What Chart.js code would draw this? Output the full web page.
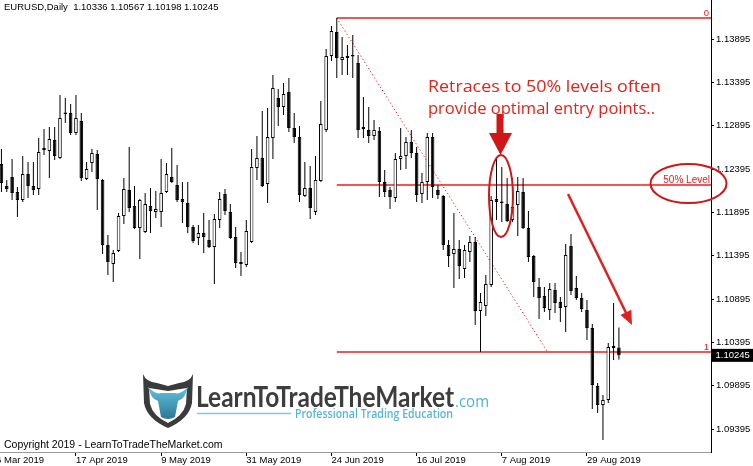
<!DOCTYPE html>
<html>
<head>
<meta charset="utf-8">
<script src="https://cdn.jsdelivr.net/npm/chart.js@4.4.1/dist/chart.umd.min.js"></script>
<style>
  html, body { margin: 0; padding: 0; background: #fff; }
  canvas { display: block; }
</style>
</head>
<body>
<canvas id="chart" width="753" height="466"></canvas>
<script>
// EURUSD daily candles, 28 Mar 2019 .. 6 Sep 2019
const opens = [
  1.12453, 1.12199, 1.12303, 1.12130, 1.12037, 1.12337, 1.12199, 1.12164, 1.12637, 1.12603,
  1.12730, 1.12522, 1.13041, 1.13041, 1.12810, 1.12949, 1.12280, 1.12464, 1.12568, 1.12268,
  1.11518, 1.11299, 1.11449, 1.11853, 1.12153, 1.11968, 1.11714, 1.11668, 1.11968, 1.11899,
  1.11899, 1.12130, 1.12303, 1.12211, 1.12049, 1.12003, 1.11726, 1.11599, 1.11657, 1.11576,
  1.11496, 1.11807, 1.12107, 1.11899, 1.11610, 1.11322, 1.11287, 1.11553, 1.12407, 1.12522,
  1.12222, 1.12753, 1.13214, 1.13110, 1.13283, 1.12868, 1.12764, 1.12084, 1.12176, 1.11899,
  1.12257, 1.12845, 1.13699, 1.13976, 1.13653, 1.13676, 1.13699, 1.13618, 1.12880, 1.12845,
  1.12776, 1.12834, 1.12245, 1.12153, 1.12061, 1.12510, 1.12545, 1.12707, 1.12580, 1.12107,
  1.12245, 1.12764, 1.12153, 1.12084, 1.11518, 1.11414, 1.11472, 1.11241, 1.11437, 1.11553,
  1.10757, 1.10814, 1.11057, 1.12049, 1.12014, 1.11991, 1.11807, 1.11980, 1.12130, 1.11714,
  1.11391, 1.11034, 1.10930, 1.10768, 1.10999, 1.10861, 1.10803, 1.11507, 1.11022, 1.10907,
  1.10768, 1.10561, 1.09891, 1.09672, 1.09730, 1.10353, 1.10336
];
const highs = [
  1.12626, 1.12268, 1.12510, 1.12187, 1.12545, 1.12476, 1.12476, 1.12753, 1.12857, 1.12880,
  1.12880, 1.13249, 1.13214, 1.13145, 1.13249, 1.13041, 1.12476, 1.12626, 1.12614, 1.12280,
  1.11634, 1.11460, 1.11887, 1.12291, 1.12649, 1.12199, 1.12049, 1.12118, 1.12176, 1.12141,
  1.12510, 1.12464, 1.12637, 1.12441, 1.12245, 1.12245, 1.11749, 1.11749, 1.11887, 1.11807,
  1.11876, 1.12130, 1.12164, 1.11991, 1.11726, 1.11437, 1.11807, 1.12626, 1.12776, 1.13064,
  1.13099, 1.13480, 1.13318, 1.13387, 1.13445, 1.13041, 1.12891, 1.12476, 1.12430, 1.12545,
  1.13180, 1.13780, 1.14045, 1.14137, 1.13918, 1.13826, 1.13941, 1.13710, 1.13226, 1.13110,
  1.12960, 1.12880, 1.12384, 1.12187, 1.12580, 1.12868, 1.12764, 1.12845, 1.12649, 1.12349,
  1.12810, 1.12810, 1.12211, 1.12095, 1.11576, 1.11887, 1.11576, 1.11518, 1.11622, 1.11610,
  1.10964, 1.11172, 1.12084, 1.12534, 1.12418, 1.12291, 1.12291, 1.12303, 1.12291, 1.11910,
  1.11403, 1.11138, 1.11034, 1.11080, 1.11080, 1.10918, 1.11530, 1.11645, 1.11161, 1.10964,
  1.10884, 1.10607, 1.09926, 1.09788, 1.10388, 1.10849, 1.10567
];
const lows = [
  1.12130, 1.12130, 1.12037, 1.11841, 1.12014, 1.12061, 1.12095, 1.12095, 1.12557, 1.12291,
  1.12499, 1.12510, 1.12926, 1.12787, 1.12787, 1.12257, 1.12268, 1.12360, 1.11922, 1.11414,
  1.11172, 1.11091, 1.11437, 1.11760, 1.11899, 1.11703, 1.11357, 1.11657, 1.11657, 1.11830,
  1.11726, 1.12118, 1.12234, 1.12014, 1.11772, 1.11657, 1.11541, 1.11518, 1.11426, 1.11484,
  1.11068, 1.11714, 1.11864, 1.11587, 1.11253, 1.11161, 1.11264, 1.11541, 1.12268, 1.12187,
  1.12003, 1.12510, 1.12891, 1.13018, 1.12822, 1.12695, 1.12014, 1.12072, 1.11818, 1.11864,
  1.12245, 1.12822, 1.13641, 1.13445, 1.13480, 1.13480, 1.13445, 1.12753, 1.12753, 1.12695,
  1.12730, 1.12072, 1.12072, 1.11934, 1.12014, 1.12384, 1.12395, 1.12522, 1.12014, 1.12003,
  1.12037, 1.12061, 1.12049, 1.11460, 1.11264, 1.11022, 1.11126, 1.11138, 1.11322, 1.10595,
  1.10284, 1.10699, 1.11034, 1.11807, 1.11784, 1.11784, 1.11784, 1.11622, 1.11703, 1.11322,
  1.10918, 1.10664, 1.10745, 1.10653, 1.10734, 1.10630, 1.10515, 1.10941, 1.10884, 1.10745,
  1.10422, 1.09626, 1.09580, 1.09268, 1.09695, 1.10191, 1.10198
];
const closes = [
  1.12234, 1.12164, 1.12118, 1.12037, 1.12337, 1.12199, 1.12153, 1.12591, 1.12614, 1.12741,
  1.12545, 1.12984, 1.13030, 1.12810, 1.12984, 1.12291, 1.12395, 1.12580, 1.12280, 1.11518,
  1.11322, 1.11426, 1.11853, 1.12164, 1.11945, 1.11714, 1.12037, 1.11991, 1.11910, 1.11934,
  1.12118, 1.12337, 1.12245, 1.12037, 1.12014, 1.11726, 1.11564, 1.11657, 1.11610, 1.11496,
  1.11818, 1.12049, 1.11910, 1.11599, 1.11311, 1.11299, 1.11680, 1.12418, 1.12522, 1.12199,
  1.12764, 1.13330, 1.13110, 1.13261, 1.12868, 1.12764, 1.12095, 1.12176, 1.11945, 1.12268,
  1.12914, 1.13699, 1.13987, 1.13676, 1.13687, 1.13699, 1.13694, 1.12845, 1.12857, 1.12776,
  1.12845, 1.12245, 1.12130, 1.12072, 1.12510, 1.12545, 1.12707, 1.12580, 1.12095, 1.12245,
  1.12764, 1.12187, 1.12095, 1.11518, 1.11391, 1.11472, 1.11276, 1.11460, 1.11553, 1.10757,
  1.10861, 1.11068, 1.12037, 1.12014, 1.12003, 1.11795, 1.11957, 1.12141, 1.11714, 1.11380,
  1.11091, 1.10907, 1.10791, 1.11011, 1.10849, 1.10791, 1.11403, 1.10988, 1.10907, 1.10780,
  1.10561, 1.09903, 1.09672, 1.09730, 1.10341, 1.10330, 1.10245
];

const yTicks = [1.09395, 1.09895, 1.10395, 1.10895, 1.11395, 1.11895, 1.12395, 1.12895, 1.13395, 1.13895];
const xTickBars = [-2, 14, 30, 46, 62, 78, 94, 110];
const xTickLabels = ['26 Mar 2019', '17 Apr 2019', '9 May 2019', '31 May 2019', '24 Jun 2019', '16 Jul 2019', '7 Aug 2019', '29 Aug 2019'];

// visible window of the MT4 chart
const priceMin = 1.09130, priceMax = 1.14345;
const barMin = -0.27, barMax = 133.3;

// fibonacci tool: from the 25 Jun high down to the 1 Aug low
const fibStartBar = 63, fibEndBar = 102.6;
const fibHigh = highs[63], fibLow = lows[90];

const RED = '#ee1c1c';
const TEXT_RED = '#e2231a';
const DARK_RED = '#cf1717';
const tickFont = { family: "'Liberation Sans', Arial, sans-serif", size: 9.5 };

function fitText(ctx, text, x, base, width, font, color) {
  ctx.font = font;
  const w = ctx.measureText(text).width;
  ctx.save();
  ctx.translate(x, base);
  ctx.scale(width / w, 1);
  ctx.fillStyle = color;
  ctx.textBaseline = 'alphabetic';
  ctx.fillText(text, 0, 0);
  ctx.restore();
}

function drawLogo(ctx) {
  // shield with bull head
  const cx = 168, top = 373;
  ctx.save();
  ctx.fillStyle = '#3b3b3b';
  ctx.beginPath();
  ctx.moveTo(cx - 25, top + 1);
  ctx.quadraticCurveTo(cx - 22, top + 9, cx - 11, top + 10);
  ctx.lineTo(cx, top + 13);
  ctx.lineTo(cx + 11, top + 10);
  ctx.quadraticCurveTo(cx + 22, top + 9, cx + 25, top + 1);
  ctx.lineTo(cx + 24, top + 30);
  ctx.quadraticCurveTo(cx + 21, top + 46, cx, top + 55);
  ctx.quadraticCurveTo(cx - 21, top + 46, cx - 24, top + 30);
  ctx.closePath();
  ctx.fill();
  ctx.fillStyle = '#ffffff';
  ctx.beginPath();
  ctx.moveTo(cx - 19, top + 15);
  ctx.lineTo(cx, top + 18);
  ctx.lineTo(cx + 19, top + 15);
  ctx.lineTo(cx + 18, top + 31);
  ctx.quadraticCurveTo(cx + 15, top + 43, cx, top + 50);
  ctx.quadraticCurveTo(cx - 15, top + 43, cx - 18, top + 31);
  ctx.closePath();
  ctx.fill();
  const g = ctx.createLinearGradient(0, top + 14, 0, top + 48);
  g.addColorStop(0, '#5fc3e0');
  g.addColorStop(1, '#2a7390');
  ctx.fillStyle = g;
  ctx.beginPath();
  ctx.moveTo(cx - 20, top + 14);
  ctx.quadraticCurveTo(cx - 12, top + 22, cx - 7, top + 20);
  ctx.lineTo(cx + 7, top + 20);
  ctx.quadraticCurveTo(cx + 12, top + 22, cx + 20, top + 14);
  ctx.quadraticCurveTo(cx + 17, top + 26, cx + 10, top + 28);
  ctx.lineTo(cx + 7, top + 44);
  ctx.quadraticCurveTo(cx, top + 48, cx - 7, top + 44);
  ctx.lineTo(cx - 10, top + 28);
  ctx.quadraticCurveTo(cx - 17, top + 26, cx - 20, top + 14);
  ctx.closePath();
  ctx.fill();
  ctx.restore();

  fitText(ctx, 'LearnToTradeTheMarket', 196, 407, 258, "bold 28px Lato, 'Open Sans', sans-serif", '#3d3d3d');
  fitText(ctx, '.com', 455, 407, 34, "17px 'Open Sans', Lato, sans-serif", '#4db3da');
  ctx.save();
  ctx.strokeStyle = '#7cc8e6';
  ctx.lineWidth = 1.5;
  ctx.beginPath();
  ctx.moveTo(197, 413.5);
  ctx.lineTo(291, 413.5);
  ctx.stroke();
  ctx.restore();
  fitText(ctx, 'Professional Trading Education', 295, 418, 158, "600 12.5px 'Open Sans', sans-serif", '#56b5db');
}

const overlay = {
  id: 'overlay',
  beforeDatasetsDraw(chart) {
    const { ctx, chartArea: a, scales: { x, y } } = chart;
    const x0 = x.getPixelForValue(fibStartBar);
    const levels = [fibHigh, (fibHigh + fibLow) / 2, fibLow];
    ctx.save();
    ctx.strokeStyle = RED;
    ctx.lineWidth = 1.5;
    levels.forEach(p => {
      const py = y.getPixelForValue(p);
      ctx.beginPath();
      ctx.moveTo(x0, py);
      ctx.lineTo(a.right, py);
      ctx.stroke();
    });
    ctx.lineWidth = 1;
    ctx.setLineDash([1.3, 2.4]);
    ctx.beginPath();
    ctx.moveTo(x0, y.getPixelForValue(fibHigh));
    ctx.lineTo(x.getPixelForValue(fibEndBar), y.getPixelForValue(fibLow));
    ctx.stroke();
    ctx.restore();
  },
  afterDraw(chart) {
    const { ctx, chartArea: a, scales: { x, y } } = chart;
    ctx.save();
    // fib level labels
    ctx.fillStyle = RED;
    ctx.font = "9.5px 'Liberation Sans', Arial, sans-serif";
    ctx.textAlign = 'right';
    ctx.textBaseline = 'alphabetic';
    ctx.fillText('0', a.right - 2, y.getPixelForValue(fibHigh) - 2);
    ctx.fillText('1', a.right - 2, y.getPixelForValue(fibLow) - 2);
    ctx.font = "10px 'Liberation Sans', Arial, sans-serif";
    ctx.fillText('50% Level', a.right - 1, y.getPixelForValue((fibHigh + fibLow) / 2) - 2);

    // ellipses
    ctx.strokeStyle = DARK_RED;
    ctx.lineWidth = 2;
    ctx.beginPath();
    ctx.ellipse(501, 196, 12, 41, 0, 0, Math.PI * 2);
    ctx.stroke();
    ctx.beginPath();
    ctx.ellipse(688.5, 183.5, 38, 19.5, 0, 0, Math.PI * 2);
    ctx.stroke();

    // thick down arrow
    ctx.fillStyle = DARK_RED;
    ctx.fillRect(496.5, 114, 7, 21);
    ctx.beginPath();
    ctx.moveTo(489, 133);
    ctx.lineTo(512, 133);
    ctx.lineTo(500.5, 155);
    ctx.closePath();
    ctx.fill();

    // diagonal arrow
    ctx.strokeStyle = '#e02020';
    ctx.fillStyle = '#e02020';
    ctx.lineWidth = 2.5;
    const sx = 568, sy = 194, ex = 632, ey = 325;
    const ang = Math.atan2(ey - sy, ex - sx);
    ctx.beginPath();
    ctx.moveTo(sx, sy);
    ctx.lineTo(ex - 12 * Math.cos(ang), ey - 12 * Math.sin(ang));
    ctx.stroke();
    ctx.beginPath();
    ctx.moveTo(ex, ey);
    ctx.lineTo(ex - 14 * Math.cos(ang) + 6 * Math.sin(ang), ey - 14 * Math.sin(ang) - 6 * Math.cos(ang));
    ctx.lineTo(ex - 14 * Math.cos(ang) - 6 * Math.sin(ang), ey - 14 * Math.sin(ang) + 6 * Math.cos(ang));
    ctx.closePath();
    ctx.fill();

    // annotation text
    ctx.textAlign = 'left';
    fitText(ctx, 'Retraces to 50% levels often', 428, 92, 233, "16.5px 'Open Sans', sans-serif", TEXT_RED);
    fitText(ctx, 'provide optimal entry points..', 428, 114, 227, "16.5px 'Open Sans', sans-serif", TEXT_RED);

    // header & copyright
    ctx.fillStyle = '#000';
    ctx.font = "9.5px 'Liberation Sans', Arial, sans-serif";
    ctx.fillText('EURUSD,Daily  1.10336 1.10567 1.10198 1.10245', 4, 10);
    ctx.font = "10.5px 'Liberation Sans', Arial, sans-serif";
    ctx.fillText('Copyright 2019 - LearnToTradeTheMarket.com', 4, 448);

    drawLogo(ctx);

    // current price box
    const last = closes[closes.length - 1];
    const py = y.getPixelForValue(last);
    ctx.fillStyle = '#000';
    ctx.fillRect(a.right + 1, py - 6.5, chart.width - a.right - 1, 13);
    ctx.fillStyle = '#fff';
    ctx.font = "9.5px 'Liberation Sans', Arial, sans-serif";
    ctx.textBaseline = 'middle';
    ctx.fillText(last.toFixed(5), a.right + 4.5, py + 0.5);
    ctx.restore();
  }
};

const bodyData = opens.map((o, i) => ({ x: i, y: [o, closes[i]] }));
const wickData = lows.map((l, i) => ({ x: i, y: [l, highs[i]] }));

new Chart(document.getElementById('chart'), {
  type: 'bar',
  data: {
    datasets: [
      {
        label: 'body',
        data: bodyData,
        backgroundColor: opens.map((o, i) => (closes[i] >= o ? '#ffffff' : '#000000')),
        borderColor: '#000000',
        borderWidth: 1,
        borderSkipped: false,
        barThickness: 3.6,
        minBarLength: 1.5,
        inflateAmount: 0,
        grouped: false,
        order: 1
      },
      {
        label: 'wick',
        data: wickData,
        backgroundColor: '#000000',
        borderWidth: 0,
        barThickness: 1,
        inflateAmount: 0,
        grouped: false,
        order: 2
      }
    ]
  },
  options: {
    responsive: false,
    devicePixelRatio: 1,
    animation: false,
    events: [],
    layout: { padding: 0 },
    plugins: { legend: { display: false }, tooltip: { enabled: false } },
    scales: {
      x: {
        type: 'linear',
        min: barMin,
        max: barMax,
        offset: false,
        afterBuildTicks: s => { s.ticks = xTickBars.map(v => ({ value: v })); },
        afterFit: s => { s.height = 14; s.paddingLeft = 0; s.paddingRight = 0; },
        ticks: {
          autoSkip: false,
          maxRotation: 0,
          align: 'start',
          labelOffset: 0,
          padding: -1,
          color: '#000',
          font: tickFont,
          callback: (v, i) => xTickLabels[i]
        },
        grid: { drawOnChartArea: false, tickLength: 4, tickColor: '#000', offset: false },
        border: { color: '#9a9a9a', width: 1 }
      },
      y: {
        position: 'right',
        min: priceMin,
        max: priceMax,
        afterBuildTicks: s => { s.ticks = yTicks.map(v => ({ value: v })); },
        afterFit: s => { s.width = 42; s.paddingTop = 0; s.paddingBottom = 0; },
        ticks: {
          autoSkip: false,
          padding: 2,
          color: '#000',
          font: tickFont,
          callback: v => v.toFixed(5)
        },
        grid: { drawOnChartArea: false, tickLength: 3, tickColor: '#000' },
        border: { color: '#000', width: 1 }
      }
    }
  },
  plugins: [overlay]
});
</script>
</body>
</html>
